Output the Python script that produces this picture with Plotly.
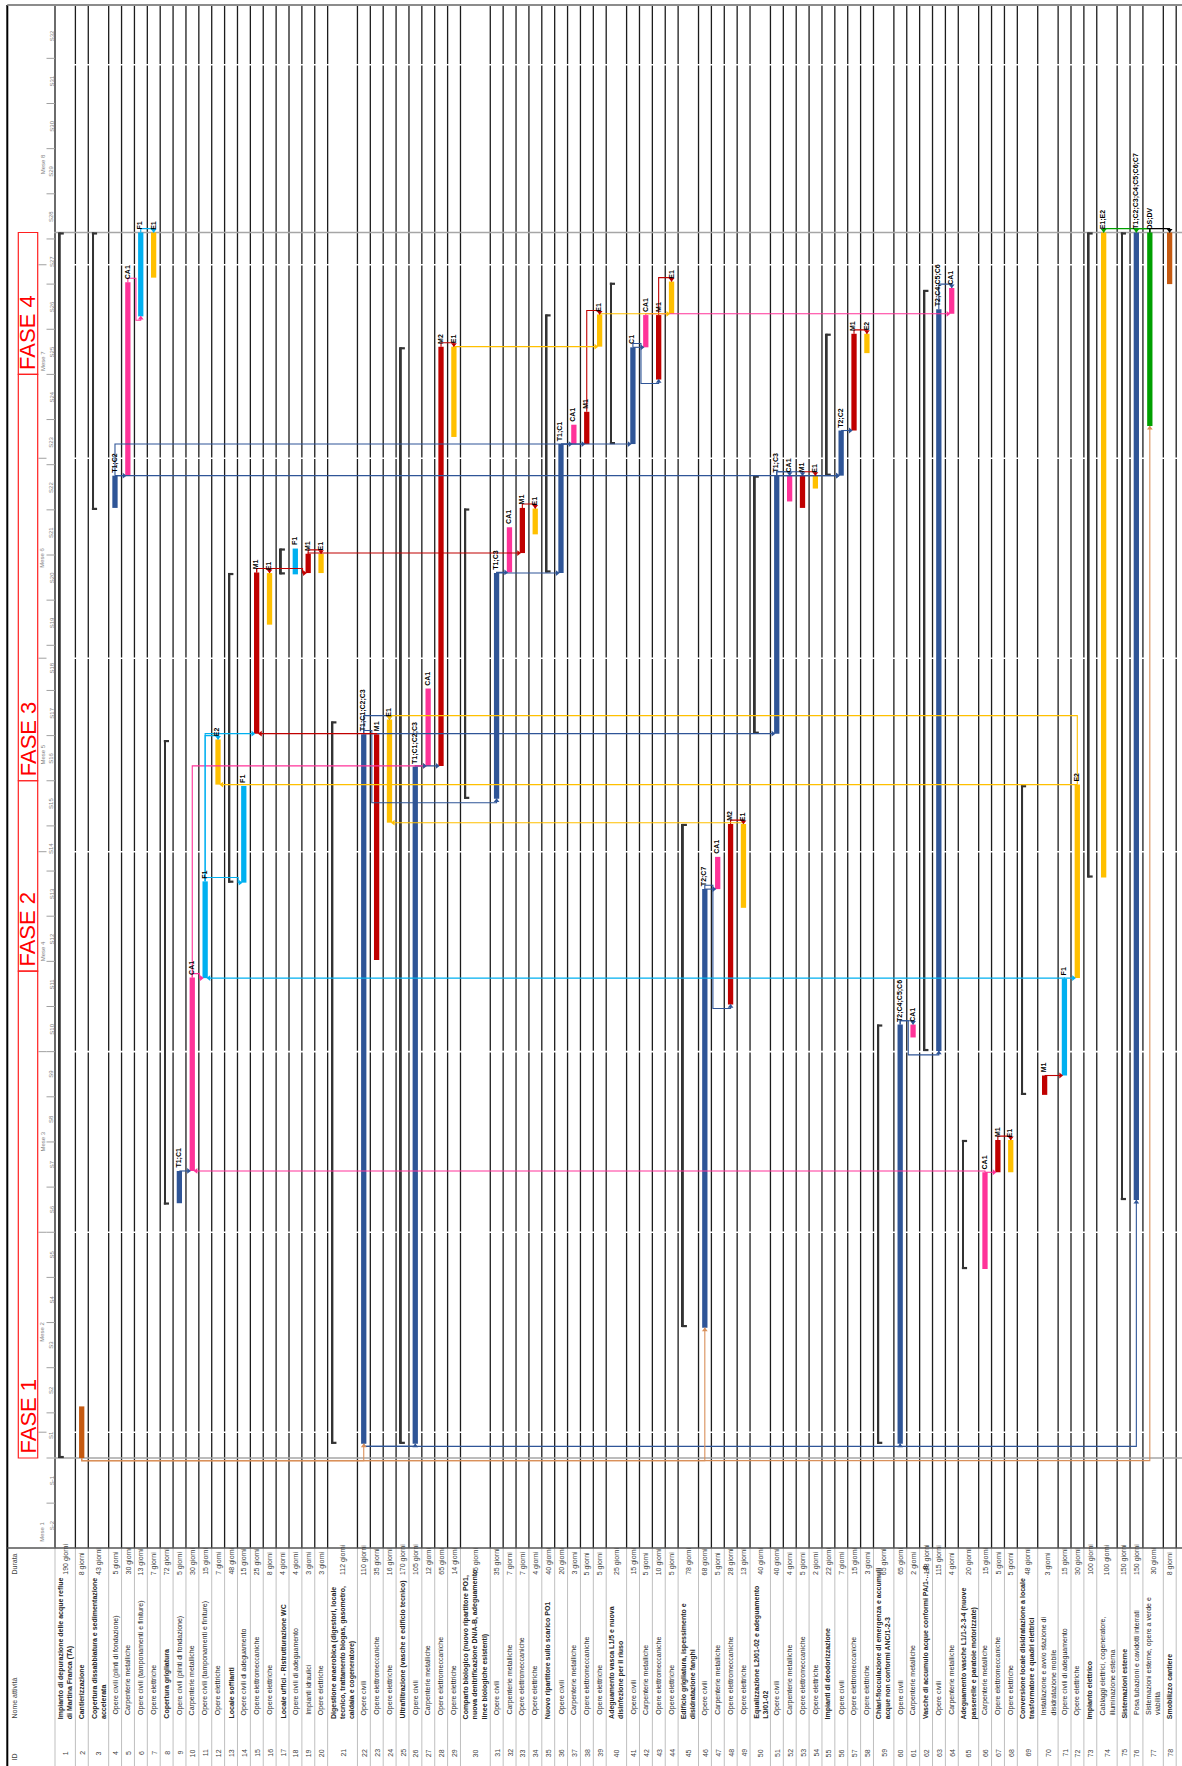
import plotly.graph_objects as go

# ---------------------------------------------------------------- data
task_ids = list(range(1, 79))
task_names = [
    "Impianto di depurazione delle acque reflue<br>di Martina Franca (TA)",
    "Cantierizzazione",
    "Copertura dissabbiatura e sedimentazione<br>accelerata",
    "Opere civili (plinti di fondazione)",
    "Carpenterie metalliche",
    "Opere civili (tamponamenti e finiture)",
    "Opere elettriche",
    "Copertura grigliatura",
    "Opere civili (plinti di fondazione)",
    "Carpenterie metalliche",
    "Opere civili (tamponamenti e finiture)",
    "Opere elettriche",
    "Locale soffianti",
    "Opere civili di adeguamento",
    "Opere elettromeccaniche",
    "Opere elettriche",
    "Locale uffici - Ristrutturazione WC",
    "Opere civili di adeguamento",
    "Impianti idraulici",
    "Opere elettriche",
    "Digestione anaerobica (digestori, locale<br>tecnico, trattamento biogas, gasometro,<br>caldaia e cogeneratore)",
    "Opere civili",
    "Opere elettromeccaniche",
    "Opere elettriche",
    "Ultrafiltrazione (vasche e edificio tecnico)",
    "Opere civili",
    "Carpenterie metalliche",
    "Opere elettromeccaniche",
    "Opere elettriche",
    "Comparto biologico (nuovo ripartitore PO1,<br>nuova denitrificazione DN/A-B, adeguamento<br>linee biologiche esistenti)",
    "Opere civili",
    "Carpenterie metalliche",
    "Opere elettromeccaniche",
    "Opere elettriche",
    "Nuovo ripartitore sullo scarico PO1",
    "Opere civili",
    "Carpenterie metalliche",
    "Opere elettromeccaniche",
    "Opere elettriche",
    "Adeguamento vasca L1/5 e nuova<br>disinfezione per il riuso",
    "Opere civili",
    "Carpenterie metalliche",
    "Opere elettromeccaniche",
    "Opere elettriche",
    "Edificio grigliatura, ispessimento e<br>disidratazione fanghi",
    "Opere civili",
    "Carpenterie metalliche",
    "Opere elettromeccaniche",
    "Opere elettriche",
    "Equalizzazione L2/01-02 e adeguamento<br>L3/01-02",
    "Opere civili",
    "Carpenterie metalliche",
    "Opere elettromeccaniche",
    "Opere elettriche",
    "Impianti di deodorizzazione",
    "Opere civili",
    "Opere elettromeccaniche",
    "Opere elettriche",
    "Chiari-flocculazione di emergenza e accumuli<br>acque non conformi ANC/1-2-3",
    "Opere civili",
    "Carpenterie metalliche",
    "Vasche di accumulo acque conformi PA/1-…-8",
    "Opere civili",
    "Carpenterie metalliche",
    "Adeguamento vasche L1/1-2-3-4 (nuove<br>passerelle e paratoie motorizzate)",
    "Carpenterie metalliche",
    "Opere elettromeccaniche",
    "Opere elettriche",
    "Conversione locale disidratazione a locale<br>trasformatore e quadri elettrici",
    "Installazione e avvio stazione di<br>disidratazione mobile",
    "Opere civili di adeguamento",
    "Opere elettriche",
    "Impianto elettrico",
    "Cablaggi elettrici, cogeneratore,<br>illuminazione esterna",
    "Sistemazioni esterne",
    "Posa tubazioni e cavidotti interrati",
    "Sistemazioni esterne, opere a verde e<br>viabilità",
    "Smobilizzo cantiere",
]
durations = [190, 8, 43, 5, 30, 13, 7, 72, 5, 30, 15, 7, 48, 15, 25, 8, 4, 4, 3, 3,
             112, 110, 35, 16, 170, 105, 12, 65, 14, 45, 35, 7, 7, 4, 40, 20, 3, 5, 5, 25,
             15, 5, 10, 5, 78, 68, 5, 28, 13, 40, 40, 4, 5, 2, 22, 7, 15, 3, 65, 65,
             2, 118, 115, 4, 20, 15, 5, 5, 48, 3, 15, 30, 100, 100, 150, 150, 30, 8]
start_days = [0, 0, 147, 147.3, 152.3, 177, 183, 39.3, 39.5, 44.5,
              74.4, 104.4, 89.2, 89.2, 112.3, 129.2, 137, 137, 137.2, 137.2,
              2.2, 2.2, 77.2, 98.5, 2.2, 2.2, 107.3, 107.3, 158.3, 102.2,
              102.2, 137.3, 140.3, 143.2, 137.3, 137.2, 157.2, 157.2, 172.3, 157.2,
              157.2, 172.2, 167.2, 177.4, 20.3, 20.2, 88.2, 70.3, 85.3, 112.3,
              112.3, 148.3, 147.3, 150.3, 152.3, 152.3, 159.3, 171.3, 2.2, 2.2,
              65.2, 63.1, 63.1, 177.4, 29.3, 29.3, 44.3, 44.3, 56.3, 56.3,
              59.3, 74.4, 90, 90, 40, 40, 160, 182]
# resource label of each bar (None = summary task, "" = unlabeled bar)
resources = [None, "", None, "T1;C2", "CA1", "F1", "E1", None, "T1;C1", "CA1",
             "F1", "E2", None, "F1", "M1", "E1", None, "F1", "M1", "E1",
             None, "T1;C1;C2;C3", "M1", "E1", None, "T1;C1;C2;C3", "CA1", "M2", "E1", None,
             "T1;C3", "CA1", "M1", "E1", None, "T1;C1", "CA1", "M1", "E1", None,
             "C1", "CA1", "M1", "E1", None, "T2;C7", "CA1", "M2", "E1", None,
             "T1;C3", "CA1", "M1", "E1", None, "T2;C2", "M1", "E2", None, "T2;C4;C5;C6",
             "CA1", None, "T2;C4;C5;C6", "CA1", None, "CA1", "M1", "E1", None, "M1",
             "F1", "E2", None, "E1;E2", None, "T1;C2;C3;C4;C5;C6;C7", "DS;DV", ""]
bold_rows = [1, 2, 3, 8, 13, 17, 21, 25, 30, 35, 40, 45, 50, 55, 59, 62, 65, 69, 73, 75, 78]
# dependency links: (predecessor, successor, type)
links = [
    (4, 5, "FS"), (4, 41, "FS"), (4, 56, "FS"), (5, 6, "FS"), (9, 10, "FS"), (10, 11, "FS"),
    (11, 14, "FS"), (11, 15, "FS"), (10, 27, "FS"), (15, 19, "FS"), (19, 33, "FS"),
    (22, 31, "FS"), (22, 51, "FS"), (26, 27, "FS"), (26, 28, "FS"), (29, 39, "FS"),
    (31, 32, "FS"), (31, 36, "FS"), (36, 37, "FS"), (36, 38, "FS"), (39, 44, "FS"),
    (41, 42, "FS"), (41, 43, "FS"), (42, 64, "FS"), (46, 47, "FS"), (46, 48, "FS"),
    (51, 56, "FS"), (56, 57, "FS"), (60, 63, "FS"), (66, 67, "FS"), (70, 71, "FS"),
    (71, 72, "FS"), (23, 15, "FS"), (72, 12, "FS"), (49, 24, "FS"), (66, 10, "FS"),
    (71, 11, "FS"),
    (6, 7, "FF"), (11, 12, "FF"), (15, 16, "FF"), (19, 20, "FF"), (22, 24, "FF"),
    (72, 24, "FF"), (28, 29, "FF"), (33, 34, "FF"), (38, 39, "FF"), (43, 44, "FF"),
    (48, 49, "FF"), (51, 52, "FF"), (51, 53, "FF"), (53, 54, "FF"), (57, 58, "FF"),
    (60, 61, "FF"), (63, 64, "FF"), (67, 68, "FF"), (77, 76, "FF"), (77, 74, "FF"),
    (77, 78, "FF"),
    (2, 22, "SS"), (2, 46, "SS"), (2, 77, "SS"), (22, 26, "SS"), (22, 60, "SS"), (60, 76, "SS"),
]
month_labels = ["Mese 1", "Mese 2", "Mese 3", "Mese 4", "Mese 5", "Mese 6", "Mese 7", "Mese 8"]
month_start_days = [-27, 4, 35, 63, 94, 124, 155, 185, 216]
week_labels = ["S-2", "S-1"] + ["S%d" % k for k in range(1, 33)]
phase_labels = ["FASE 1", "FASE 2", "FASE 3", "FASE 4"]
phase_start_days = [0, 75.5, 105, 168, 190]
header_labels = ["ID", "Nome attività", "Durata"]

# ---------------------------------------------------------------- geometry / style
W, H = 1182, 1766
Y_TOP, Y_TABLE = 5.0, 1548.0
Y_DAY0, PX_PER_DAY = 1458.0, 6.45
X_BORDER, X_CHART = 7.3, 55.0
ROW_W = {1: 12.88, 2: 20.4, 3: 29.8}
FONT = "Liberation Sans Narrow, Liberation Sans, Arial, sans-serif"
SUMMARY = "#333333"
PROJECT_LINE = "#A6A6A6"


def res_color(r):
    if r is None:
        return "#000000"
    if r == "":
        return "#C55A11"
    if r.startswith("CA"):
        return "#FF3399"
    if r.startswith("M"):
        return "#C00000"
    if r.startswith("E"):
        return "#FFC000"
    if r.startswith("F"):
        return "#00B0F0"
    if r.startswith("DS"):
        return "#00A000"
    return "#2F5597"


def py(Y):
    return 1.0 - Y / H


day_min = (Y_DAY0 - Y_TABLE) / PX_PER_DAY
day_max = (Y_DAY0 - Y_TOP) / PX_PER_DAY

n = len(task_ids)
nlines = [s.count("<br>") + 1 for s in task_names]
lefts, rights = [], []
xx = X_CHART
for k in nlines:
    lefts.append(xx)
    xx += ROW_W[k]
    rights.append(xx)
bar_x = [l + 6.3 + 0.6 * (k - 1) for l, k in zip(lefts, nlines)]
sum_x = [l + 4.8 for l in lefts]
ends = [s + d for s, d in zip(start_days, durations)]
BAR_W = 5.3

fig = go.Figure()
shapes = []
ann = []

# ---------------------------------------------------------------- grid
col_bounds = [X_CHART] + rights
for xb in col_bounds:
    shapes.append(dict(type="line", xref="x", yref="paper", x0=xb, x1=xb,
                       y0=py(Y_TABLE), y1=py(Y_TOP), line=dict(color="#1c1c1c", width=1.3), layer="below"))
    shapes.append(dict(type="line", xref="x", yref="paper", x0=xb, x1=xb,
                       y0=0, y1=py(Y_TABLE), line=dict(color="#BFBFBF", width=1), layer="below"))
# month boundaries (white breaks)
for d in month_start_days[1:]:
    shapes.append(dict(type="line", xref="x", yref="y", x0=X_CHART + 1, x1=W, y0=d, y1=d,
                       line=dict(color="#FFFFFF", width=1.6), layer="below"))
# project start / finish lines
for d in (0, ends[0]):
    shapes.append(dict(type="line", xref="x", yref="y", x0=X_CHART - 1, x1=W, y0=d, y1=d,
                       line=dict(color=PROJECT_LINE, width=1.5), layer="below"))
# borders
shapes.append(dict(type="line", xref="x", yref="paper", x0=X_BORDER, x1=X_BORDER, y0=0, y1=py(Y_TOP),
                   line=dict(color="#000000", width=2)))
shapes.append(dict(type="line", xref="x", yref="paper", x0=X_BORDER, x1=W, y0=py(Y_TOP), y1=py(Y_TOP),
                   line=dict(color="#8C8C8C", width=2)))
shapes.append(dict(type="line", xref="x", yref="paper", x0=X_BORDER, x1=W, y0=py(Y_TABLE), y1=py(Y_TABLE),
                   line=dict(color="#555555", width=1.5)))

# ---------------------------------------------------------------- time scale column
for k, lab in enumerate(week_labels):
    w0 = (k - 2) * 7
    shapes.append(dict(type="line", xref="x", yref="y", x0=46.5, x1=X_CHART, y0=w0, y1=w0,
                       line=dict(color="#A0A0A0", width=1)))
    ann.append(dict(x=51.6, y=w0 + 3.5, xref="x", yref="y", text=lab, textangle=-90, showarrow=False,
                    xanchor="center", yanchor="middle", font=dict(size=6, color="#7F7F7F", family=FONT)))
for k, lab in enumerate(month_labels):
    m0 = month_start_days[k]
    m1 = month_start_days[k + 1]
    if k > 0:
        shapes.append(dict(type="line", xref="x", yref="y", x0=38.5, x1=46.5, y0=m0, y1=m0,
                           line=dict(color="#A0A0A0", width=1)))
    ann.append(dict(x=42.6, y=(m0 + m1) / 2, xref="x", yref="y", text=lab, textangle=-90, showarrow=False,
                    xanchor="center", yanchor="middle", font=dict(size=6, color="#7F7F7F", family=FONT)))

# phases
for k, lab in enumerate(phase_labels):
    p0, p1 = phase_start_days[k], phase_start_days[k + 1]
    shapes.append(dict(type="rect", xref="x", yref="y", x0=18.3, x1=37.7, y0=p0, y1=p1,
                       line=dict(color="#FF2020", width=1.2), fillcolor="rgba(0,0,0,0)"))
    ann.append(dict(x=28, y=p0, xref="x", yref="y", text=lab, textangle=-90, showarrow=False,
                    xanchor="center", yanchor="bottom", yshift=2,
                    font=dict(size=22, color="#FF0000", family="Liberation Sans, Arial")))

# ---------------------------------------------------------------- summary bars
S = [i for i in range(n) if resources[i] is None]
fig.add_trace(go.Bar(x=[sum_x[i] for i in S], y=[durations[i] for i in S],
                     base=[start_days[i] for i in S], width=1.9,
                     marker=dict(color=SUMMARY, line_width=0), hoverinfo="skip"))
cx, cy = [], []
for i in S:
    for d in (start_days[i] + 0.15, ends[i] - 0.15):
        cx += [lefts[i] + 3.6, lefts[i] + 8.8, None]
        cy += [d, d, None]
fig.add_trace(go.Scatter(x=cx, y=cy, mode="lines", line=dict(color=SUMMARY, width=2.2), hoverinfo="skip"))

# ---------------------------------------------------------------- dependency links
link_paths = {}
arrows_x, arrows_y, arrows_sym, arrows_col = [], [], [], []
D = 0.6
for p, s, kind in links:
    ip, is_ = p - 1, s - 1
    col = "#000000" if (p, s) == (77, 78) else res_color(resources[ip])
    if resources[ip] == "":
        col = "#D9905A"
    xp, xs = bar_x[ip], bar_x[is_]
    fp, sp = ends[ip], start_days[ip]
    ss, fs = start_days[is_], ends[is_]
    half = BAR_W / 2
    if kind == "FS":
        if xs > xp:
            if ss >= fp - 0.05:
                pts = [(xp, fp), (xp, ss), (xs - half - 1, ss)]
                arr = (xs - half - 1.2, ss, "triangle-right")
            elif fp - ss < 3:
                pts = [(xp, fp), (xp, fp + D), (xs - half - 3, fp + D), (xs - half - 3, ss), (xs - half - 1, ss)]
                arr = (xs - half - 1.2, ss, "triangle-right")
            else:
                pts = [(xp, fp), (xp, fp + D), (rights[ip] + 1.5, fp + D), (rights[ip] + 1.5, ss - D),
                       (xs, ss - D), (xs, ss)]
                arr = (xs, ss - 0.3, "triangle-up")
        else:
            yh = max(fp, ss)
            pts = [(xp, fp), (xp, yh), (xs + half + 2, yh), (xs + half + 2, ss), (xs + half + 1, ss)]
            arr = (xs + half + 1.2, ss, "triangle-left")
    elif kind == "FF":
        yh = max(fp, fs) + D
        pts = [(xp, fp), (xp, yh), (xs, yh), (xs, fs)]
        arr = (xs, fs + 0.35, "triangle-down")
    else:  # SS
        yh = min(sp, ss) - 0.4
        pts = [(xp, sp), (xp, yh), (xs, yh), (xs, ss)]
        arr = (xs, ss - 0.35, "triangle-up")
    lx, ly = link_paths.setdefault(col, ([], []))
    for a, b in pts:
        lx.append(a)
        ly.append(b)
    lx.append(None)
    ly.append(None)
    arrows_x.append(arr[0])
    arrows_y.append(arr[1])
    arrows_sym.append(arr[2])
    arrows_col.append(col)

for col, (lx, ly) in link_paths.items():
    fig.add_trace(go.Scatter(x=lx, y=ly, mode="lines", line=dict(color=col, width=1.1), hoverinfo="skip"))

# ---------------------------------------------------------------- task bars
T = [i for i in range(n) if resources[i] is not None]
groups = {}
for i in T:
    groups.setdefault(res_color(resources[i]), []).append(i)
for col, idx in groups.items():
    fig.add_trace(go.Bar(x=[bar_x[i] for i in idx], y=[durations[i] for i in idx],
                         base=[start_days[i] for i in idx], width=BAR_W,
                         marker=dict(color=col, line_width=0), hoverinfo="skip"))

fig.add_trace(go.Scatter(x=arrows_x, y=arrows_y, mode="markers",
                         marker=dict(symbol=arrows_sym, color=arrows_col, size=5, line_width=0),
                         hoverinfo="skip"))

# bar labels
for i in T:
    if resources[i]:
        ann.append(dict(x=bar_x[i] - 0.8, y=ends[i], xref="x", yref="y", text="<b>%s</b>" % resources[i],
                        textangle=-90, showarrow=False, xanchor="center", yanchor="bottom", yshift=2,
                        borderpad=0, font=dict(size=7, color="#000000", family=FONT)))

# ---------------------------------------------------------------- table
for i in range(n):
    cxm = (lefts[i] + rights[i]) / 2
    bold = task_ids[i] in bold_rows
    ann.append(dict(x=cxm, y=py(1753), xref="x", yref="paper", text=str(task_ids[i]), textangle=-90,
                    showarrow=False, xanchor="center", yanchor="middle", borderpad=0,
                    font=dict(size=7, color="#404040", family=FONT)))
    ann.append(dict(x=cxm, y=py(1720 if bold else 1716), xref="x", yref="paper",
                    text=("<b>%s</b>" % task_names[i]) if bold else task_names[i], textangle=-90,
                    showarrow=False, xanchor="center", yanchor="bottom", align="left", borderpad=0,
                    font=dict(size=7, color="#262626", family=FONT)))
    ann.append(dict(x=cxm, y=py(1576), xref="x", yref="paper", text="%d giorni" % durations[i], textangle=-90,
                    showarrow=False, xanchor="center", yanchor="bottom", borderpad=0,
                    font=dict(size=7, color="#404040", family=FONT)))
for lab, yb in zip(header_labels, (1762, 1720, 1576)):
    ann.append(dict(x=14, y=py(yb), xref="x", yref="paper", text=lab, textangle=-90, showarrow=False,
                    xanchor="center", yanchor="bottom", borderpad=0,
                    font=dict(size=7, color="#404040", family=FONT)))

fig.update_layout(
    width=W, height=H, margin=dict(l=0, r=0, t=0, b=0),
    plot_bgcolor="white", paper_bgcolor="white",
    barmode="overlay", showlegend=False,
    xaxis=dict(range=[0, W], domain=[0, 1], visible=False, fixedrange=True),
    yaxis=dict(range=[day_min, day_max], domain=[py(Y_TABLE), py(Y_TOP)], visible=False, fixedrange=True),
    shapes=shapes, annotations=ann,
)
fig.write_html("out.html", config={"displayModeBar": False},
               post_script="document.body.style.margin='0';document.body.style.overflow='hidden';")
